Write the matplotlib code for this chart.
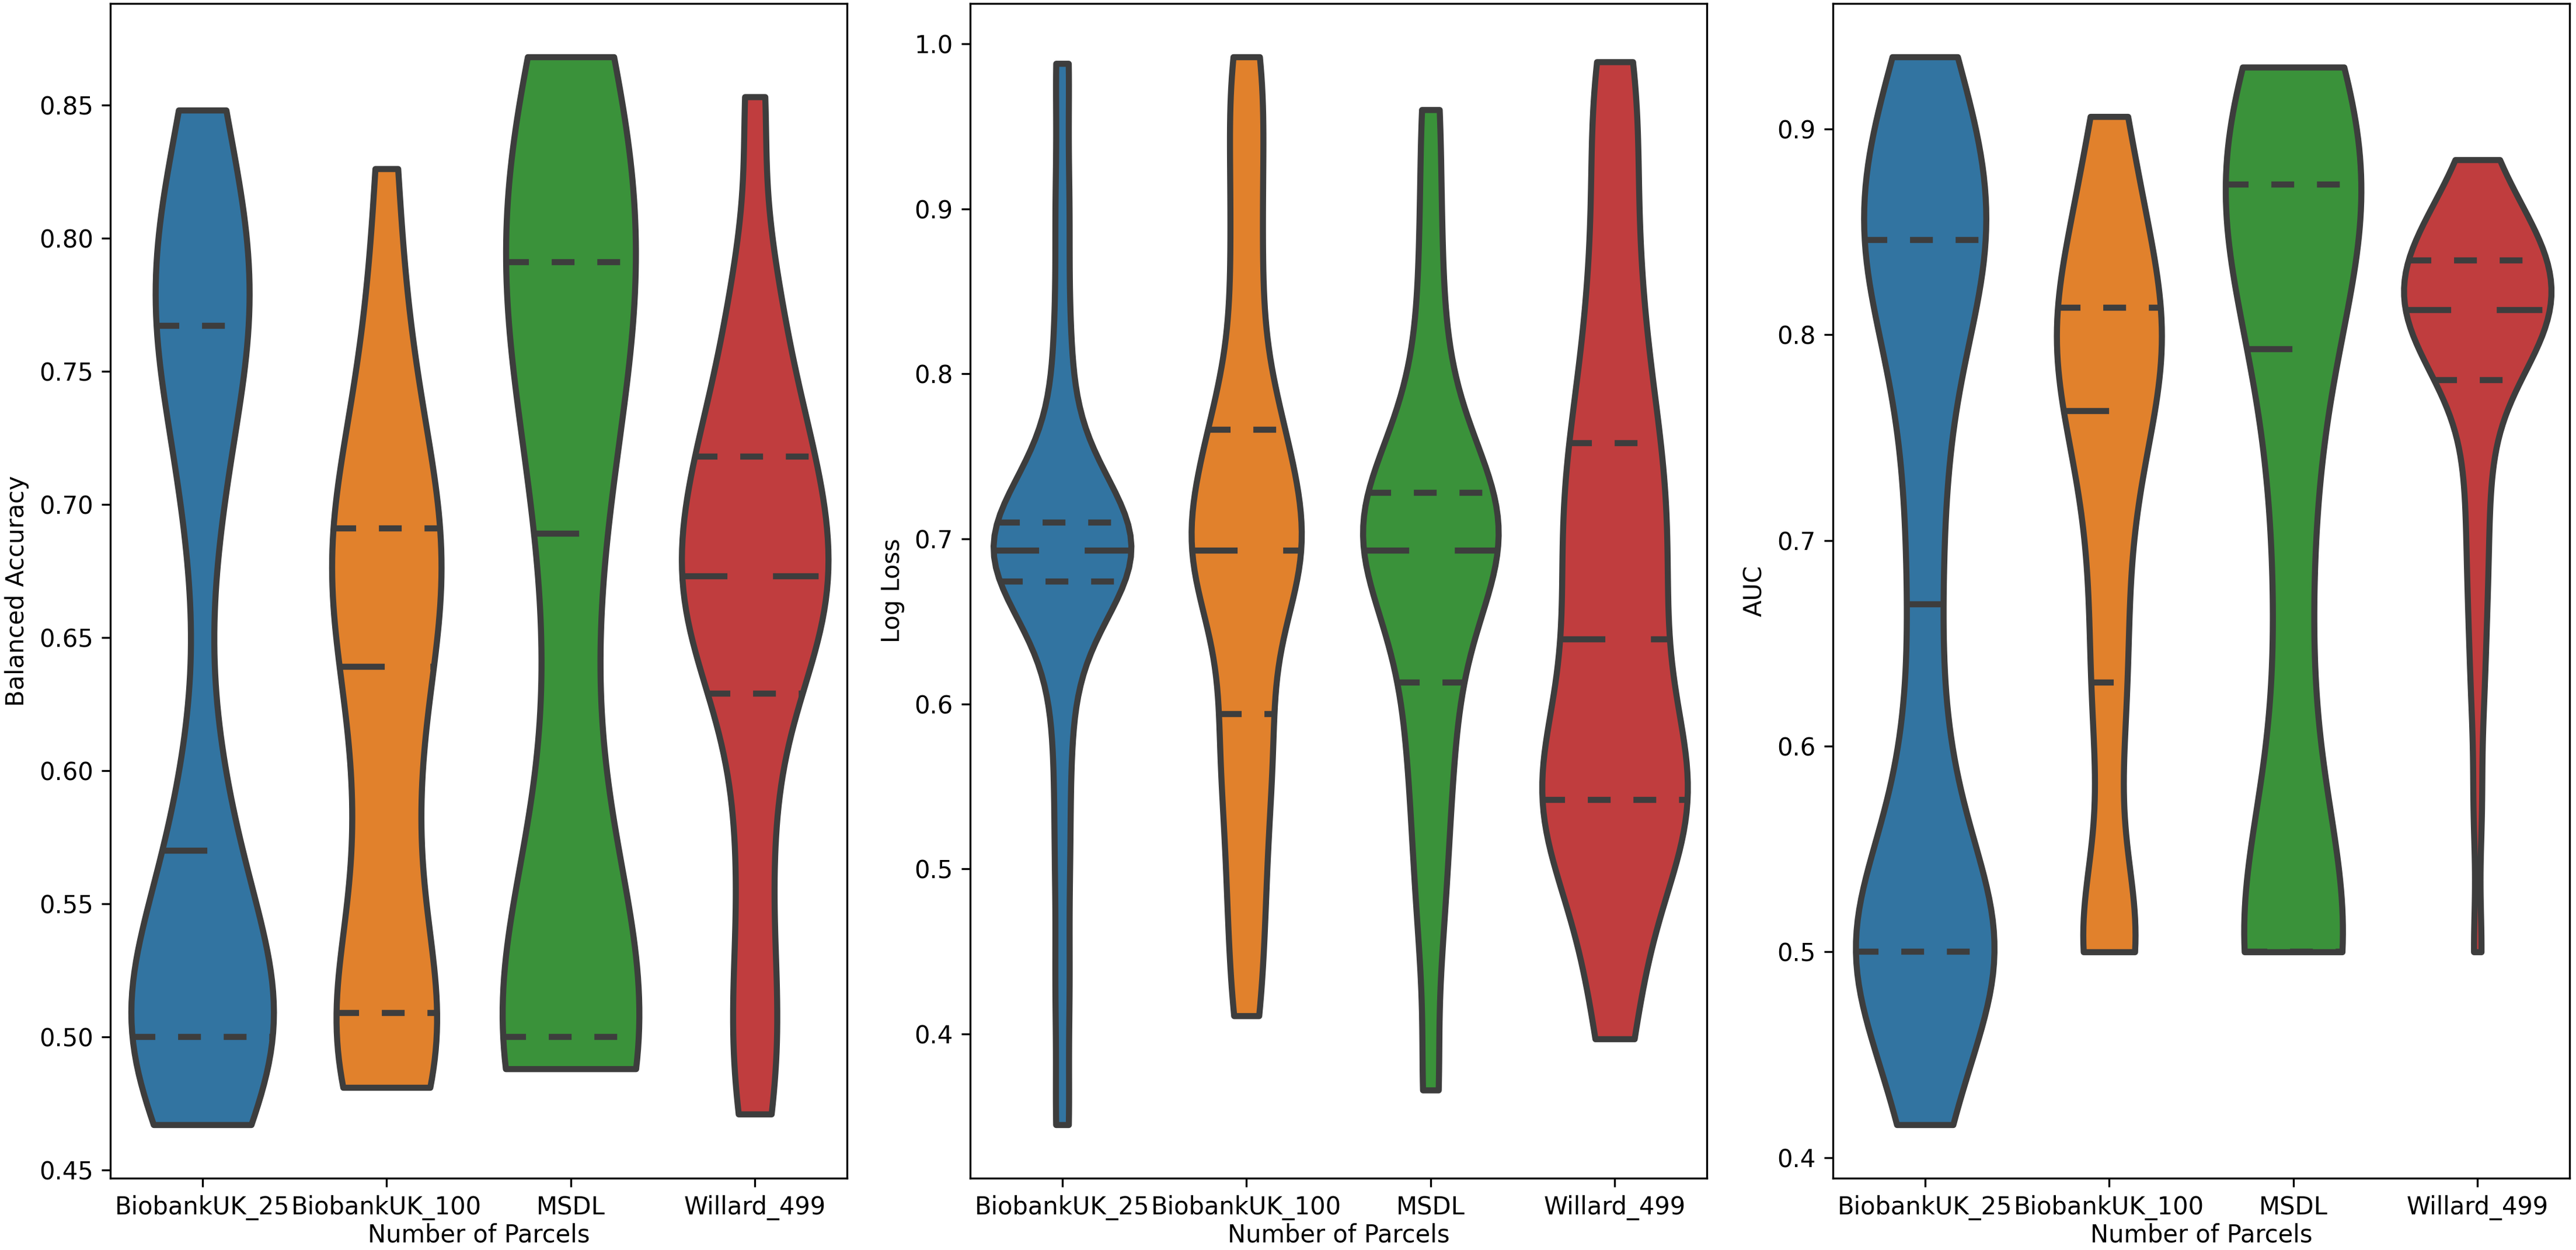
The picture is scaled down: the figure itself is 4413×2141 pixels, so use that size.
import numpy as np
import matplotlib
matplotlib.use("Agg")
import matplotlib.pyplot as plt

# ---------------- data ----------------
categories = ["BiobankUK_25", "BiobankUK_100", "MSDL", "Willard_499"]

bacc_buk25 = [0.467, 0.48, 0.5, 0.5, 0.5, 0.5, 0.51, 0.52, 0.535, 0.55, 0.57,
              0.60, 0.69, 0.73, 0.75, 0.767, 0.775, 0.79, 0.80, 0.82, 0.848]
bacc_buk100 = [0.481, 0.487, 0.495, 0.50, 0.505, 0.509, 0.54, 0.565, 0.59, 0.615, 0.639,
               0.65, 0.665, 0.675, 0.685, 0.691, 0.70, 0.72, 0.745, 0.77, 0.826]
bacc_msdl = [0.488, 0.49, 0.495, 0.5, 0.5, 0.5, 0.51, 0.53, 0.57, 0.63, 0.689,
             0.72, 0.75, 0.77, 0.78, 0.791, 0.80, 0.82, 0.84, 0.855, 0.868]
bacc_w499 = [0.471, 0.50, 0.525, 0.565, 0.60, 0.629, 0.64, 0.65, 0.66, 0.667, 0.673,
             0.68, 0.69, 0.70, 0.71, 0.718, 0.728, 0.745, 0.765, 0.79, 0.853]

logloss_buk25 = [0.345, 0.43, 0.51, 0.58, 0.635, 0.674, 0.68, 0.686, 0.69, 0.693, 0.693,
                 0.693, 0.696, 0.70, 0.705, 0.71, 0.725, 0.76, 0.82, 0.90, 0.988]
logloss_buk100 = [0.411, 0.46, 0.50, 0.54, 0.57, 0.594, 0.63, 0.66, 0.68, 0.69, 0.693,
                  0.70, 0.72, 0.74, 0.755, 0.766, 0.80, 0.85, 0.90, 0.95, 0.992]
logloss_msdl = [0.366, 0.46, 0.51, 0.55, 0.585, 0.613, 0.64, 0.665, 0.68, 0.69, 0.693,
                0.70, 0.71, 0.72, 0.725, 0.728, 0.745, 0.775, 0.82, 0.885, 0.96]
logloss_w499 = [0.397, 0.45, 0.49, 0.515, 0.53, 0.542, 0.55, 0.56, 0.58, 0.61, 0.639,
                0.66, 0.69, 0.71, 0.735, 0.758, 0.79, 0.83, 0.88, 0.94, 0.989]

auc_buk25 = [0.416, 0.45, 0.48, 0.5, 0.5, 0.5, 0.51, 0.53, 0.56, 0.60, 0.669,
             0.73, 0.78, 0.81, 0.83, 0.846, 0.855, 0.87, 0.89, 0.91, 0.935]
auc_buk100 = [0.5, 0.5, 0.505, 0.52, 0.60, 0.631, 0.665, 0.70, 0.73, 0.75, 0.763,
              0.775, 0.79, 0.80, 0.805, 0.813, 0.825, 0.84, 0.86, 0.88, 0.906]
auc_msdl = [0.5, 0.5, 0.5, 0.5, 0.5, 0.5, 0.55, 0.63, 0.69, 0.75, 0.793,
            0.82, 0.845, 0.86, 0.868, 0.873, 0.88, 0.89, 0.905, 0.92, 0.93]
auc_w499 = [0.5, 0.57, 0.62, 0.65, 0.675, 0.695, 0.715, 0.735, 0.75, 0.765,
            0.778, 0.782, 0.786, 0.79, 0.793, 0.796, 0.799, 0.802, 0.805, 0.808,
            0.812, 0.814, 0.817, 0.819, 0.821, 0.824, 0.826, 0.829, 0.831, 0.834,
            0.836, 0.839, 0.842, 0.845, 0.849, 0.853, 0.857, 0.862, 0.868, 0.875, 0.885]

metric_labels = ["Balanced Accuracy", "Log Loss", "AUC"]
x_label = "Number of Parcels"

# ---------------- style ----------------
colors = ["#3274a1", "#e1812c", "#3a923a", "#c03d3e"]
gray = "#3d3d3d"
LW = 2.5
# kernel bandwidths and max half-widths per violin (style)
bandwidths = [[0.04, 0.04, 0.06, 0.03],
              [0.04, 0.04, 0.045, 0.05],
              [0.045, 0.04, 0.065, 0.025]]
half_widths = [[0.387, 0.297, 0.371, 0.398],
               [0.374, 0.299, 0.368, 0.395],
               [0.376, 0.285, 0.368, 0.400]]

panels = [
    [bacc_buk25, bacc_buk100, bacc_msdl, bacc_w499],
    [logloss_buk25, logloss_buk100, logloss_msdl, logloss_w499],
    [auc_buk25, auc_buk100, auc_msdl, auc_w499],
]

fig = plt.figure(figsize=(4413 / 300, 2141 / 300), dpi=300)
lefts = [0.0428, 0.3766, 0.7115]
W, B, H = 0.2860, 0.0575, 0.9397

for k, groups in enumerate(panels):
    ax = fig.add_axes([lefts[k], B, W, H])
    for i, vals in enumerate(groups):
        d = np.asarray(vals, dtype=float)
        h = bandwidths[k][i]
        support = np.linspace(d.min(), d.max(), 100)
        dens = np.exp(-0.5 * ((support[:, None] - d[None, :]) / h) ** 2).sum(axis=1)
        half = dens / dens.max() * half_widths[k][i]
        ax.fill_betweenx(support, i - half, i + half, facecolor=colors[i],
                         edgecolor=gray, linewidth=LW, zorder=1)
        qs = np.percentile(d, [25, 50, 75])
        for j, q in enumerate(qs):
            w = np.interp(q, support, half)
            dash = [LW * 3] * 2 if j == 1 else [LW * 1.5] * 2
            ax.plot([i - w, i + w], [q, q], color=gray, linewidth=LW,
                    dashes=dash, solid_capstyle="butt", dash_capstyle="butt", zorder=2)
    ax.set_xlim(-0.5, len(categories) - 0.5)
    ax.set_xticks(range(len(categories)))
    ax.set_xticklabels(categories)
    ax.set_xlabel(x_label, labelpad=1)
    ax.set_ylabel(metric_labels[k])

fig.savefig("out.png", dpi=300)
